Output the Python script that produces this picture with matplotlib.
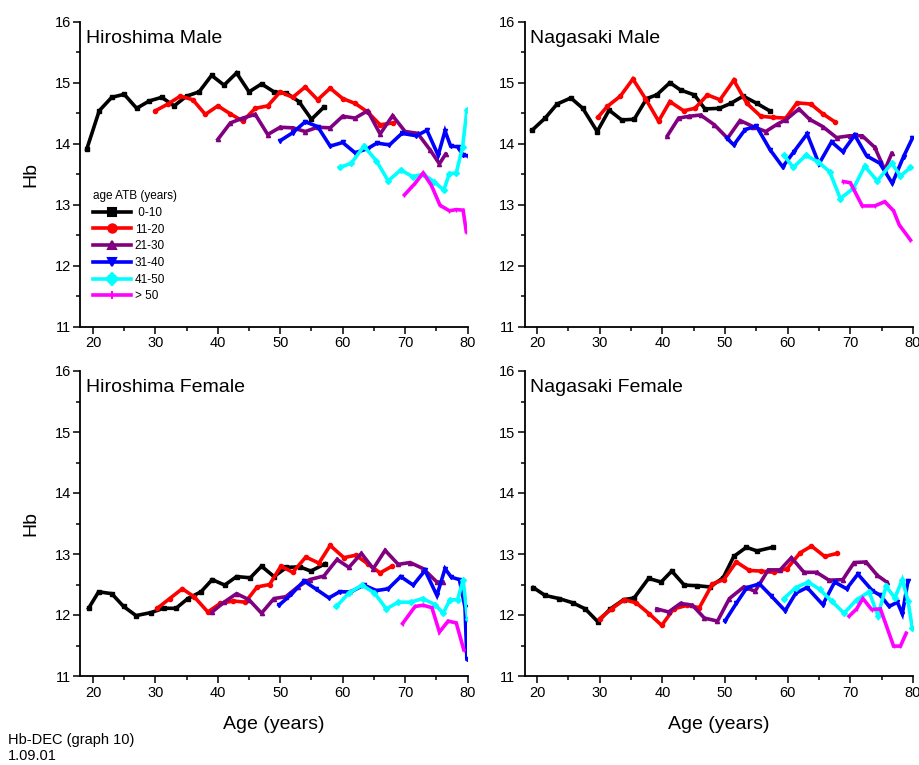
import matplotlib.pyplot as plt
from matplotlib.lines import Line2D
from matplotlib.ticker import MultipleLocator

plt.rcParams['font.family'] = ['Liberation Sans', 'DejaVu Sans']

groups = [" 0-10", "11-20", "21-30", "31-40", "41-50", "> 50"]
colors = ["black", "#ff0000", "#800080", "#0000ff", "#00ffff", "#ff00ff"]
markers = ["s", "o", "^", "v", "D", "|"]

# Hiroshima Male
hm_age_1 = [19, 21, 23, 25, 27, 29, 31, 33, 35, 37, 39, 41, 43, 45, 47, 49, 51, 53, 55, 57]
hm_hb_1 = [13.91, 14.54, 14.76, 14.81, 14.58, 14.70, 14.76, 14.62, 14.78, 14.85,
           15.12, 14.96, 15.16, 14.85, 14.98, 14.85, 14.83, 14.69, 14.40, 14.60]
hm_age_2 = [30, 32, 34, 36, 38, 40, 42, 44, 46, 48, 50, 52, 54, 56, 58, 60, 62, 64, 66, 68]
hm_hb_2 = [14.54, 14.65, 14.78, 14.72, 14.48, 14.62, 14.49, 14.37, 14.58, 14.62,
           14.85, 14.76, 14.93, 14.72, 14.91, 14.74, 14.66, 14.52, 14.31, 14.34]
hm_age_3 = [40, 42, 44, 46, 48, 50, 52, 54, 56, 58, 60, 62, 64, 66, 68, 70, 72, 74, 75.5, 76.5]
hm_hb_3 = [14.07, 14.34, 14.42, 14.48, 14.15, 14.27, 14.26, 14.20, 14.27, 14.26,
           14.45, 14.42, 14.54, 14.16, 14.46, 14.20, 14.17, 13.90, 13.67, 13.83]
hm_age_4 = [50, 52, 54, 56, 58, 60, 62, 64, 65.5, 67.5, 69.5, 71.8, 73.5, 75.3, 76.4, 77.3, 78.4, 79.3, 80]
hm_hb_4 = [14.05, 14.18, 14.36, 14.28, 13.96, 14.02, 13.85, 13.92, 14.01, 13.98,
           14.17, 14.13, 14.22, 13.81, 14.21, 13.96, 13.95, 13.81, 13.80]
hm_age_5 = [59.5, 61.4, 63.4, 65.4, 67.3, 69.3, 71.2, 72.9, 74.6, 76.2, 77.1, 78.2, 79.2, 79.9]
hm_hb_5 = [13.61, 13.68, 13.96, 13.72, 13.39, 13.57, 13.46, 13.50, 13.38, 13.24,
           13.51, 13.52, 13.94, 14.55]
hm_age_6 = [69.9, 71.6, 72.9, 74.2, 75.6, 77.1, 78.2, 79.3, 79.8]
hm_hb_6 = [13.16, 13.35, 13.52, 13.32, 12.99, 12.90, 12.92, 12.91, 12.56]

# Nagasaki Male
nm_age_1 = [19.2, 21.3, 23.2, 25.4, 27.3, 29.6, 31.5, 33.5, 35.5, 37.5, 39.1, 41.2,
            42.9, 45.1, 46.8, 49.1, 50.9, 52.9, 55.1, 57.1]
nm_hb_1 = [14.22, 14.42, 14.65, 14.75, 14.58, 14.20, 14.55, 14.39, 14.40, 14.74,
           14.80, 15.00, 14.88, 14.80, 14.57, 14.58, 14.66, 14.78, 14.66, 14.54]
nm_age_2 = [29.7, 31.2, 33.3, 35.3, 37.3, 39.4, 41.2, 43.4, 45.2, 47.2, 49.2, 51.4,
            53.5, 55.7, 57.7, 59.7, 61.5, 63.7, 65.6, 67.5]
nm_hb_2 = [14.43, 14.61, 14.78, 15.06, 14.74, 14.37, 14.69, 14.54, 14.58, 14.80,
           14.72, 15.04, 14.66, 14.45, 14.43, 14.42, 14.67, 14.65, 14.49, 14.36]
nm_age_3 = [40.8, 42.6, 44.3, 46.1, 48.3, 50.4, 52.4, 54.5, 56.5, 58.5, 59.7, 61.8,
            63.5, 65.6, 67.8, 69.9, 71.9, 73.9, 75.5, 76.6]
nm_hb_3 = [14.13, 14.42, 14.45, 14.47, 14.31, 14.09, 14.38, 14.28, 14.20, 14.33,
           14.39, 14.57, 14.40, 14.28, 14.10, 14.13, 14.13, 13.94, 13.57, 13.84]
nm_age_4 = [50.3, 51.4, 53.2, 55.0, 57.2, 59.2, 61.0, 63.1, 65.0, 67.0, 68.8, 70.7,
            72.6, 74.7, 76.7, 78.5, 79.9]
nm_hb_4 = [14.09, 13.98, 14.23, 14.29, 13.90, 13.62, 13.87, 14.16, 13.67, 14.03,
           13.87, 14.14, 13.80, 13.68, 13.35, 13.79, 14.09]
nm_age_5 = [59.4, 60.9, 62.9, 64.9, 66.7, 68.4, 70.5, 72.3, 74.3, 76.6, 78.0, 79.6]
nm_hb_5 = [13.81, 13.61, 13.81, 13.70, 13.54, 13.10, 13.27, 13.63, 13.39, 13.68, 13.47, 13.61]
nm_age_6 = [68.9, 70.0, 71.9, 73.9, 75.5, 76.9, 77.8, 79.6]
nm_hb_6 = [13.38, 13.36, 12.98, 12.98, 13.05, 12.90, 12.67, 12.42]

# Hiroshima Female
hf_age_1 = [19.3, 20.9, 23.0, 24.9, 26.9, 29.3, 31.3, 33.3, 35.2, 37.3, 39.1, 41.1,
            43.0, 45.2, 47.0, 49.0, 51.0, 53.1, 54.9, 57.2]
hf_hb_1 = [12.11, 12.38, 12.35, 12.14, 11.99, 12.04, 12.11, 12.11, 12.27, 12.38,
           12.58, 12.49, 12.63, 12.61, 12.80, 12.63, 12.78, 12.79, 12.72, 12.84]
hf_age_2 = [30.3, 32.3, 34.3, 36.2, 38.4, 40.4, 42.5, 44.4, 46.3, 48.3, 50.1, 52.0,
            54.1, 56.2, 58.0, 60.2, 62.1, 64.0, 66.0, 67.9]
hf_hb_2 = [12.11, 12.27, 12.43, 12.30, 12.05, 12.19, 12.23, 12.21, 12.46, 12.50,
           12.80, 12.70, 12.95, 12.85, 13.14, 12.94, 12.98, 12.84, 12.69, 12.80]
hf_age_3 = [39.1, 41.0, 43.0, 45.0, 47.0, 49.0, 50.9, 52.8, 54.7, 57.0, 59.1, 61.0,
            63.0, 64.9, 66.8, 68.9, 70.8, 72.9, 75.1, 76.0]
hf_hb_3 = [12.05, 12.21, 12.35, 12.25, 12.03, 12.27, 12.30, 12.46, 12.58, 12.64,
           12.91, 12.78, 13.01, 12.76, 13.06, 12.83, 12.86, 12.76, 12.54, 12.54]
hf_age_4 = [49.8, 51.8, 53.8, 55.8, 57.8, 59.5, 61.3, 63.4, 65.4, 67.3, 69.3, 71.3,
            73.2, 75.1, 76.4, 77.4, 78.7, 79.6, 79.9]
hf_hb_4 = [12.16, 12.34, 12.56, 12.42, 12.28, 12.38, 12.38, 12.49, 12.40, 12.43,
           12.63, 12.49, 12.73, 12.32, 12.76, 12.62, 12.58, 12.13, 11.28]
hf_age_5 = [59.0, 61.0, 63.1, 65.1, 67.0, 68.9, 70.9, 72.8, 74.8, 76.1, 77.2, 78.4, 79.3, 80.0]
hf_hb_5 = [12.14, 12.36, 12.49, 12.36, 12.10, 12.21, 12.21, 12.27, 12.17, 12.03,
           12.25, 12.25, 12.57, 11.94]
hf_age_6 = [69.6, 71.6, 72.9, 74.3, 75.5, 76.9, 78.2, 79.4]
hf_hb_6 = [11.86, 12.14, 12.16, 12.12, 11.72, 11.90, 11.87, 11.43]

# Nagasaki Female
nf_age_1 = [19.4, 21.3, 23.5, 25.7, 27.7, 29.7, 31.7, 33.8, 35.5, 37.8, 39.8, 41.5,
            43.5, 45.6, 47.6, 49.7, 51.4, 53.4, 55.1, 57.6]
nf_hb_1 = [12.45, 12.32, 12.27, 12.20, 12.10, 11.89, 12.10, 12.25, 12.28, 12.60,
           12.54, 12.72, 12.49, 12.48, 12.46, 12.61, 12.96, 13.11, 13.05, 13.11]
nf_age_2 = [30.0, 31.9, 33.9, 35.8, 37.9, 39.9, 41.8, 44.0, 45.9, 48.0, 49.8, 51.8,
            53.9, 55.8, 57.8, 59.9, 62.0, 63.8, 65.9, 67.9]
nf_hb_2 = [11.94, 12.10, 12.25, 12.20, 12.02, 11.83, 12.10, 12.16, 12.12, 12.51,
           12.58, 12.87, 12.73, 12.72, 12.70, 12.76, 13.02, 13.13, 12.96, 13.01]
nf_age_3 = [39.1, 41.0, 42.9, 44.8, 46.7, 48.8, 50.7, 53.0, 54.8, 56.9, 58.8, 60.6,
            62.6, 64.6, 66.6, 68.8, 70.6, 72.5, 74.3, 75.8]
nf_hb_3 = [12.10, 12.05, 12.19, 12.16, 11.95, 11.90, 12.27, 12.46, 12.39, 12.74,
           12.74, 12.94, 12.70, 12.70, 12.57, 12.58, 12.86, 12.87, 12.65, 12.54]
nf_age_4 = [50.0, 51.8, 53.5, 55.5, 57.4, 59.6, 61.3, 63.1, 65.6, 67.5, 69.4, 71.2,
            73.5, 74.8, 76.2, 77.5, 78.3, 79.2]
nf_hb_4 = [11.90, 12.19, 12.45, 12.51, 12.31, 12.07, 12.36, 12.45, 12.17, 12.54,
           12.43, 12.67, 12.40, 12.32, 12.14, 12.21, 12.02, 12.56]
nf_age_5 = [59.4, 61.3, 63.3, 65.1, 67.0, 69.0, 71.0, 73.0, 74.4, 75.7, 77.1, 78.3, 79.2, 79.9]
nf_hb_5 = [12.27, 12.45, 12.54, 12.42, 12.23, 12.03, 12.25, 12.38, 11.99, 12.47,
           12.28, 12.58, 12.23, 11.78]
nf_age_6 = [69.8, 71.0, 72.0, 73.4, 74.8, 76.9, 78.0, 78.9]
nf_hb_6 = [11.98, 12.10, 12.27, 12.09, 12.10, 11.49, 11.49, 11.70]

panels = [
    ("Hiroshima Male", [(hm_age_1, hm_hb_1), (hm_age_2, hm_hb_2), (hm_age_3, hm_hb_3),
                        (hm_age_4, hm_hb_4), (hm_age_5, hm_hb_5), (hm_age_6, hm_hb_6)]),
    ("Nagasaki Male", [(nm_age_1, nm_hb_1), (nm_age_2, nm_hb_2), (nm_age_3, nm_hb_3),
                       (nm_age_4, nm_hb_4), (nm_age_5, nm_hb_5), (nm_age_6, nm_hb_6)]),
    ("Hiroshima Female", [(hf_age_1, hf_hb_1), (hf_age_2, hf_hb_2), (hf_age_3, hf_hb_3),
                          (hf_age_4, hf_hb_4), (hf_age_5, hf_hb_5), (hf_age_6, hf_hb_6)]),
    ("Nagasaki Female", [(nf_age_1, nf_hb_1), (nf_age_2, nf_hb_2), (nf_age_3, nf_hb_3),
                         (nf_age_4, nf_hb_4), (nf_age_5, nf_hb_5), (nf_age_6, nf_hb_6)]),
]

W, H = 920, 765
fig = plt.figure(figsize=(W / 100, H / 100), dpi=100)

# axes boxes in pixels: left, top, right, bottom
boxes = [(80.5, 21.7, 467.5, 326.7), (524.5, 21.7, 913, 326.7),
         (80.5, 371, 467.5, 676), (524.5, 371, 913, 676)]

axes = []
for (title, series), (l, t, r, b) in zip(panels, boxes):
    ax = fig.add_axes([l / W, 1 - b / H, (r - l) / W, (b - t) / H])
    for (age, hb), c, m in zip(series, colors, markers):
        ax.plot(age, hb, color=c, lw=2.6, marker=m, ms=3, mew=1, solid_joinstyle='miter')
    ax.set_xlim(18, 80)
    ax.set_ylim(11, 16)
    ax.xaxis.set_major_locator(MultipleLocator(10))
    ax.xaxis.set_minor_locator(MultipleLocator(5))
    ax.yaxis.set_major_locator(MultipleLocator(1))
    ax.yaxis.set_minor_locator(MultipleLocator(0.5))
    ax.tick_params(which='major', direction='out', length=5, width=1.1, labelsize=10.5, pad=2)
    ax.tick_params(which='minor', direction='out', length=3, width=1.1)
    for s in ['top', 'right']:
        ax.spines[s].set_visible(False)
    for s in ['left', 'bottom']:
        ax.spines[s].set_linewidth(1.3)
    ax.text(0.014, 0.93, title, transform=ax.transAxes, fontsize=14, va='baseline')
    axes.append(ax)

axes[0].set_ylabel("Hb", fontsize=14, labelpad=11)
axes[2].set_ylabel("Hb", fontsize=14, labelpad=11)
axes[2].set_xlabel("Age (years)", fontsize=14, labelpad=12)
axes[3].set_xlabel("Age (years)", fontsize=14, labelpad=12)

handles = [Line2D([], [], color=c, lw=2.6, marker=m, ms=6, mew=1.5) for c, m in zip(colors, markers)]
leg = axes[0].legend(handles, groups, title="age ATB (years)", loc='upper left',
                     bbox_to_anchor=(0.012, 0.475), frameon=False, fontsize=8.5,
                     title_fontsize=8.5, handlelength=3.2, handletextpad=0.3,
                     labelspacing=0.4, borderpad=0.2)
leg._legend_box.align = "left"

fig.text(0.009, 0.002, "Hb-DEC (graph 10)\n1.09.01", fontsize=10.5, va='bottom', ha='left',
         linespacing=1.25)

fig.savefig("out.png", dpi=100)
